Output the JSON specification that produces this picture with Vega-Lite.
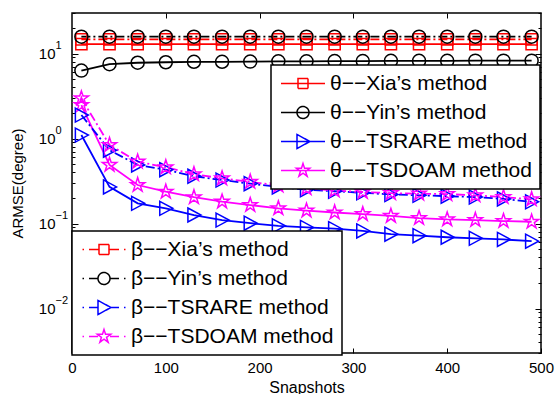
{
"$schema":"https://vega.github.io/schema/vega-lite/v6.json",
"width":469,"height":340,"autosize":"none",
"padding":{"left":72,"top":13,"right":14,"bottom":41},
"background":"white",
"config":{"font":"Liberation Sans","view":{"stroke":"black","strokeWidth":1.5},
 "axis":{"grid":false,"domain":false,"tickColor":"black","tickWidth":1,"labelColor":"black","titleColor":"black","labelFontSize":15,"titleFontSize":15,"titleFontWeight":"normal","labelFont":"Liberation Sans","titleFont":"Liberation Sans"}},
"datasets":{"d":[
{"s":"θ−−Xia’s method","p":"t","x":10,"y":12.9},{"s":"θ−−Xia’s method","p":"t","x":40,"y":12.9},{"s":"θ−−Xia’s method","p":"t","x":70,"y":12.9},{"s":"θ−−Xia’s method","p":"t","x":100,"y":12.9},{"s":"θ−−Xia’s method","p":"t","x":130,"y":12.9},{"s":"θ−−Xia’s method","p":"t","x":160,"y":12.9},{"s":"θ−−Xia’s method","p":"t","x":190,"y":12.9},{"s":"θ−−Xia’s method","p":"t","x":220,"y":12.9},{"s":"θ−−Xia’s method","p":"t","x":250,"y":12.9},{"s":"θ−−Xia’s method","p":"t","x":280,"y":12.9},{"s":"θ−−Xia’s method","p":"t","x":310,"y":12.9},{"s":"θ−−Xia’s method","p":"t","x":340,"y":12.9},{"s":"θ−−Xia’s method","p":"t","x":370,"y":12.9},{"s":"θ−−Xia’s method","p":"t","x":400,"y":12.9},{"s":"θ−−Xia’s method","p":"t","x":430,"y":12.9},{"s":"θ−−Xia’s method","p":"t","x":460,"y":12.9},{"s":"θ−−Xia’s method","p":"t","x":490,"y":12.9},
{"s":"θ−−Yin’s method","p":"t","x":10,"y":6.3},{"s":"θ−−Yin’s method","p":"t","x":40,"y":7.5},{"s":"θ−−Yin’s method","p":"t","x":70,"y":7.8},{"s":"θ−−Yin’s method","p":"t","x":100,"y":7.9},{"s":"θ−−Yin’s method","p":"t","x":130,"y":8.0},{"s":"θ−−Yin’s method","p":"t","x":160,"y":8.0},{"s":"θ−−Yin’s method","p":"t","x":190,"y":8.05},{"s":"θ−−Yin’s method","p":"t","x":220,"y":8.1},{"s":"θ−−Yin’s method","p":"t","x":250,"y":8.1},{"s":"θ−−Yin’s method","p":"t","x":280,"y":8.15},{"s":"θ−−Yin’s method","p":"t","x":310,"y":8.15},{"s":"θ−−Yin’s method","p":"t","x":340,"y":8.2},{"s":"θ−−Yin’s method","p":"t","x":370,"y":8.2},{"s":"θ−−Yin’s method","p":"t","x":400,"y":8.2},{"s":"θ−−Yin’s method","p":"t","x":430,"y":8.25},{"s":"θ−−Yin’s method","p":"t","x":460,"y":8.25},{"s":"θ−−Yin’s method","p":"t","x":490,"y":8.25},
{"s":"θ−−TSRARE method","p":"t","x":10,"y":1.1},{"s":"θ−−TSRARE method","p":"t","x":40,"y":0.27},{"s":"θ−−TSRARE method","p":"t","x":70,"y":0.173},{"s":"θ−−TSRARE method","p":"t","x":100,"y":0.151},{"s":"θ−−TSRARE method","p":"t","x":130,"y":0.126},{"s":"θ−−TSRARE method","p":"t","x":160,"y":0.11},{"s":"θ−−TSRARE method","p":"t","x":190,"y":0.101},{"s":"θ−−TSRARE method","p":"t","x":220,"y":0.094},{"s":"θ−−TSRARE method","p":"t","x":250,"y":0.09},{"s":"θ−−TSRARE method","p":"t","x":280,"y":0.087},{"s":"θ−−TSRARE method","p":"t","x":310,"y":0.082},{"s":"θ−−TSRARE method","p":"t","x":340,"y":0.075},{"s":"θ−−TSRARE method","p":"t","x":370,"y":0.072},{"s":"θ−−TSRARE method","p":"t","x":400,"y":0.069},{"s":"θ−−TSRARE method","p":"t","x":430,"y":0.067},{"s":"θ−−TSRARE method","p":"t","x":460,"y":0.065},{"s":"θ−−TSRARE method","p":"t","x":490,"y":0.062},
{"s":"θ−−TSDOAM method","p":"t","x":10,"y":2.48},{"s":"θ−−TSDOAM method","p":"t","x":40,"y":0.49},{"s":"θ−−TSDOAM method","p":"t","x":70,"y":0.284},{"s":"θ−−TSDOAM method","p":"t","x":100,"y":0.237},{"s":"θ−−TSDOAM method","p":"t","x":130,"y":0.204},{"s":"θ−−TSDOAM method","p":"t","x":160,"y":0.181},{"s":"θ−−TSDOAM method","p":"t","x":190,"y":0.165},{"s":"θ−−TSDOAM method","p":"t","x":220,"y":0.151},{"s":"θ−−TSDOAM method","p":"t","x":250,"y":0.142},{"s":"θ−−TSDOAM method","p":"t","x":280,"y":0.135},{"s":"θ−−TSDOAM method","p":"t","x":310,"y":0.129},{"s":"θ−−TSDOAM method","p":"t","x":340,"y":0.123},{"s":"θ−−TSDOAM method","p":"t","x":370,"y":0.116},{"s":"θ−−TSDOAM method","p":"t","x":400,"y":0.112},{"s":"θ−−TSDOAM method","p":"t","x":430,"y":0.11},{"s":"θ−−TSDOAM method","p":"t","x":460,"y":0.107},{"s":"θ−−TSDOAM method","p":"t","x":490,"y":0.105},
{"s":"β−−Xia’s method","p":"b","x":10,"y":14.7},{"s":"β−−Xia’s method","p":"b","x":40,"y":14.7},{"s":"β−−Xia’s method","p":"b","x":70,"y":14.7},{"s":"β−−Xia’s method","p":"b","x":100,"y":14.7},{"s":"β−−Xia’s method","p":"b","x":130,"y":14.7},{"s":"β−−Xia’s method","p":"b","x":160,"y":14.7},{"s":"β−−Xia’s method","p":"b","x":190,"y":14.7},{"s":"β−−Xia’s method","p":"b","x":220,"y":14.7},{"s":"β−−Xia’s method","p":"b","x":250,"y":14.7},{"s":"β−−Xia’s method","p":"b","x":280,"y":14.7},{"s":"β−−Xia’s method","p":"b","x":310,"y":14.7},{"s":"β−−Xia’s method","p":"b","x":340,"y":14.7},{"s":"β−−Xia’s method","p":"b","x":370,"y":14.7},{"s":"β−−Xia’s method","p":"b","x":400,"y":14.7},{"s":"β−−Xia’s method","p":"b","x":430,"y":14.7},{"s":"β−−Xia’s method","p":"b","x":460,"y":14.7},{"s":"β−−Xia’s method","p":"b","x":490,"y":14.7},
{"s":"β−−Yin’s method","p":"b","x":10,"y":15.8},{"s":"β−−Yin’s method","p":"b","x":40,"y":15.8},{"s":"β−−Yin’s method","p":"b","x":70,"y":15.8},{"s":"β−−Yin’s method","p":"b","x":100,"y":15.8},{"s":"β−−Yin’s method","p":"b","x":130,"y":15.8},{"s":"β−−Yin’s method","p":"b","x":160,"y":15.8},{"s":"β−−Yin’s method","p":"b","x":190,"y":15.8},{"s":"β−−Yin’s method","p":"b","x":220,"y":15.8},{"s":"β−−Yin’s method","p":"b","x":250,"y":15.8},{"s":"β−−Yin’s method","p":"b","x":280,"y":15.8},{"s":"β−−Yin’s method","p":"b","x":310,"y":15.8},{"s":"β−−Yin’s method","p":"b","x":340,"y":15.8},{"s":"β−−Yin’s method","p":"b","x":370,"y":15.8},{"s":"β−−Yin’s method","p":"b","x":400,"y":15.8},{"s":"β−−Yin’s method","p":"b","x":430,"y":15.8},{"s":"β−−Yin’s method","p":"b","x":460,"y":15.8},{"s":"β−−Yin’s method","p":"b","x":490,"y":15.8},
{"s":"β−−TSRARE method","p":"b","x":10,"y":1.89},{"s":"β−−TSRARE method","p":"b","x":40,"y":0.73},{"s":"β−−TSRARE method","p":"b","x":70,"y":0.49},{"s":"β−−TSRARE method","p":"b","x":100,"y":0.43},{"s":"β−−TSRARE method","p":"b","x":130,"y":0.36},{"s":"β−−TSRARE method","p":"b","x":160,"y":0.325},{"s":"β−−TSRARE method","p":"b","x":190,"y":0.295},{"s":"β−−TSRARE method","p":"b","x":220,"y":0.27},{"s":"β−−TSRARE method","p":"b","x":250,"y":0.25},{"s":"β−−TSRARE method","p":"b","x":280,"y":0.24},{"s":"β−−TSRARE method","p":"b","x":310,"y":0.23},{"s":"β−−TSRARE method","p":"b","x":340,"y":0.22},{"s":"β−−TSRARE method","p":"b","x":370,"y":0.215},{"s":"β−−TSRARE method","p":"b","x":400,"y":0.21},{"s":"β−−TSRARE method","p":"b","x":430,"y":0.205},{"s":"β−−TSRARE method","p":"b","x":460,"y":0.195},{"s":"β−−TSRARE method","p":"b","x":490,"y":0.18},
{"s":"β−−TSDOAM method","p":"b","x":10,"y":2.97},{"s":"β−−TSDOAM method","p":"b","x":40,"y":0.84},{"s":"β−−TSDOAM method","p":"b","x":70,"y":0.535},{"s":"β−−TSDOAM method","p":"b","x":100,"y":0.46},{"s":"β−−TSDOAM method","p":"b","x":130,"y":0.38},{"s":"β−−TSDOAM method","p":"b","x":160,"y":0.34},{"s":"β−−TSDOAM method","p":"b","x":190,"y":0.31},{"s":"β−−TSDOAM method","p":"b","x":220,"y":0.28},{"s":"β−−TSDOAM method","p":"b","x":250,"y":0.26},{"s":"β−−TSDOAM method","p":"b","x":280,"y":0.245},{"s":"β−−TSDOAM method","p":"b","x":310,"y":0.235},{"s":"β−−TSDOAM method","p":"b","x":340,"y":0.228},{"s":"β−−TSDOAM method","p":"b","x":370,"y":0.225},{"s":"β−−TSDOAM method","p":"b","x":400,"y":0.222},{"s":"β−−TSDOAM method","p":"b","x":430,"y":0.215},{"s":"β−−TSDOAM method","p":"b","x":460,"y":0.205},{"s":"β−−TSDOAM method","p":"b","x":490,"y":0.193}
]},
"layer":[
{
 "data":{"name":"d"},
 "transform":[{"filter":"datum.p=='t'"}],
 "encoding":{
  "x":{"field":"x","type":"quantitative","scale":{"domain":[0,500],"nice":false,"zero":false},
   "axis":{"orient":"bottom","values":[0,100,200,300,400,500],"title":"Snapshots","tickSize":-5,"labelPadding":12,"labelFlush":false,"titlePadding":4,"titleFontSize":16}},
  "y":{"field":"y","type":"quantitative","scale":{"type":"log","domain":[0.003,30],"nice":false},
   "axis":{"orient":"left","values":[0.003,0.004,0.005,0.006,0.007,0.008,0.009,0.01,0.02,0.03,0.04,0.05,0.06,0.07,0.08,0.09,0.1,0.2,0.3,0.4,0.5,0.6,0.7,0.8,0.9,1,2,3,4,5,6,7,8,9,10,20,30],
    "labelExpr":"(datum.value==10||datum.value==1||abs(datum.value-0.1)<1e-9||abs(datum.value-0.01)<1e-9)?'10':''",
    "tickSize":{"condition":{"test":"abs(log(datum.value)/LN10-round(log(datum.value)/LN10))<0.001","value":-6},"value":-3},
    "labelPadding":23,"title":"ARMSE(degree)","titlePadding":13}},
  "color":{"field":"s","type":"nominal",
   "scale":{"domain":["θ−−Xia’s method","θ−−Yin’s method","θ−−TSRARE method","θ−−TSDOAM method"],"range":["#ff0000","#000000","#0000ff","#ff00ff"]},
   "legend":{"orient":"none","legendX":199,"legendY":52,"title":null,"strokeColor":"black","fillColor":"white","padding":8,"labelFontSize":21,"labelFont":"Liberation Sans","labelColor":"black","labelOffset":30,"rowPadding":7,"symbolSize":4,"labelLimit":500,
    "encode":{"symbols":{"update":{
      "shape":{"signal":"indexof(datum.value,'Xia')>=0?'M-8.5,0L35.5,0M8.5,-5L18.5,-5L18.5,5L8.5,5Z':indexof(datum.value,'Yin')>=0?'M-8.5,0L35.5,0M7.5,0A6,6 0 1,0 19.5,0A6,6 0 1,0 7.5,0':indexof(datum.value,'RARE')>=0?'M-8.5,0L35.5,0M7.5,-7L20.5,0L7.5,7Z':'M-8.5,0L35.5,0M13.5,-7L15.07,-2.16L20.16,-2.16L16.04,0.83L17.61,5.66L13.5,2.67L9.39,5.66L10.96,0.83L6.84,-2.16L11.93,-2.16Z'"},
      "size":{"value":4},"fill":{"value":"transparent"},"strokeWidth":{"value":1.5},"strokeDash":{"value":[1,0]},"opacity":{"value":1}}},
     "legend":{"update":{"strokeWidth":{"value":1.5}}}}}}
 },
 "layer":[
  {"mark":{"type":"line","strokeWidth":1.8,"clip":true}},
  {"transform":[{"filter":"indexof(datum.s,'Xia')>=0"}],"mark":{"type":"point","filled":false,"strokeWidth":1.5,"size":196,"opacity":1,"clip":true,"shape":"M-0.8,-0.8L0.8,-0.8L0.8,0.8L-0.8,0.8Z"}},
  {"transform":[{"filter":"indexof(datum.s,'Yin')>=0"}],"mark":{"type":"point","filled":false,"strokeWidth":1.5,"size":196,"opacity":1,"clip":true,"shape":"M-0.93,0A0.93,0.93 0 1,0 0.93,0A0.93,0.93 0 1,0 -0.93,0"}},
  {"transform":[{"filter":"indexof(datum.s,'RARE')>=0"}],"mark":{"type":"point","filled":false,"strokeWidth":1.5,"size":196,"opacity":1,"clip":true,"shape":"M-0.86,-1L1,0L-0.86,1Z"}},
  {"transform":[{"filter":"indexof(datum.s,'DOAM')>=0"}],"mark":{"type":"point","filled":false,"strokeWidth":1.5,"size":196,"opacity":1,"clip":true,"shape":"M0,-1.07L0.24,-0.331L1.018,-0.331L0.389,0.126L0.629,0.866L0,0.409L-0.629,0.866L-0.389,0.126L-1.018,-0.331L-0.24,-0.331Z"}}
 ]
},
{
 "data":{"name":"d"},
 "transform":[{"filter":"datum.p=='b'"}],
 "encoding":{
  "x":{"field":"x","type":"quantitative","scale":{"domain":[0,500],"nice":false,"zero":false},
   "axis":{"orient":"top","values":[100,200,300,400],"title":null,"labels":false,"tickSize":-5}},
  "y":{"field":"y","type":"quantitative","scale":{"type":"log","domain":[0.003,30],"nice":false},
   "axis":{"orient":"right","values":[0.003,0.004,0.005,0.006,0.007,0.008,0.009,0.01,0.02,0.03,0.04,0.05,0.06,0.07,0.08,0.09,0.1,0.2,0.3,0.4,0.5,0.6,0.7,0.8,0.9,1,2,3,4,5,6,7,8,9,10,20,30],"labels":false,"title":null,
    "tickSize":{"condition":{"test":"abs(log(datum.value)/LN10-round(log(datum.value)/LN10))<0.001","value":-6},"value":-3}}},
  "color":{"field":"s","type":"nominal",
   "scale":{"domain":["β−−Xia’s method","β−−Yin’s method","β−−TSRARE method","β−−TSDOAM method"],"range":["#ff0000","#000000","#0000ff","#ff00ff"]},
   "legend":{"orient":"none","legendX":0,"legendY":218,"title":null,"strokeColor":"black","fillColor":"white","padding":8,"labelFontSize":21,"labelFont":"Liberation Sans","labelColor":"black","labelOffset":30,"rowPadding":7,"symbolSize":4,"labelLimit":500,
    "encode":{"symbols":{"update":{
      "shape":{"signal":"indexof(datum.value,'Xia')>=0?'M-8,0L-6.5,0M-1.5,0L8.5,0M18.5,0L28.5,0M33.5,0L35,0M8.5,-5L18.5,-5L18.5,5L8.5,5Z':indexof(datum.value,'Yin')>=0?'M-8,0L-6.5,0M-1.5,0L7.5,0M19.5,0L28.5,0M33.5,0L35,0M7.5,0A6,6 0 1,0 19.5,0A6,6 0 1,0 7.5,0':indexof(datum.value,'RARE')>=0?'M-8,0L-6.5,0M-1.5,0L7.5,0M20.5,0L28.5,0M33.5,0L35,0M7.5,-7L20.5,0L7.5,7Z':'M-8,0L-6.5,0M-1.5,0L7.5,0M19.5,0L28.5,0M33.5,0L35,0M13.5,-7L15.07,-2.16L20.16,-2.16L16.04,0.83L17.61,5.66L13.5,2.67L9.39,5.66L10.96,0.83L6.84,-2.16L11.93,-2.16Z'"},
      "size":{"value":4},"fill":{"value":"transparent"},"strokeWidth":{"value":1.5},"strokeDash":{"value":[1,0]},"opacity":{"value":1}}},
     "legend":{"update":{"strokeWidth":{"value":1.5}}}}}}
 },
 "layer":[
  {"mark":{"type":"line","strokeWidth":1.8,"strokeDash":[9,3,2,3],"clip":true}},
  {"transform":[{"filter":"indexof(datum.s,'Xia')>=0"}],"mark":{"type":"point","filled":false,"strokeWidth":1.5,"size":196,"opacity":1,"clip":true,"shape":"M-0.8,-0.8L0.8,-0.8L0.8,0.8L-0.8,0.8Z"}},
  {"transform":[{"filter":"indexof(datum.s,'Yin')>=0"}],"mark":{"type":"point","filled":false,"strokeWidth":1.5,"size":196,"opacity":1,"clip":true,"shape":"M-0.93,0A0.93,0.93 0 1,0 0.93,0A0.93,0.93 0 1,0 -0.93,0"}},
  {"transform":[{"filter":"indexof(datum.s,'RARE')>=0"}],"mark":{"type":"point","filled":false,"strokeWidth":1.5,"size":196,"opacity":1,"clip":true,"shape":"M-0.86,-1L1,0L-0.86,1Z"}},
  {"transform":[{"filter":"indexof(datum.s,'DOAM')>=0"}],"mark":{"type":"point","filled":false,"strokeWidth":1.5,"size":196,"opacity":1,"clip":true,"shape":"M0,-1.07L0.24,-0.331L1.018,-0.331L0.389,0.126L0.629,0.866L0,0.409L-0.629,0.866L-0.389,0.126L-1.018,-0.331L-0.24,-0.331Z"}}
 ]
},
{
 "data":{"name":"d"},
 "transform":[{"filter":"datum.p=='t'"}],
 "mark":{"type":"point","opacity":0},
 "encoding":{
  "x":{"field":"x","type":"quantitative","scale":{"domain":[0,500],"nice":false,"zero":false},"axis":null},
  "y":{"field":"y","type":"quantitative","scale":{"type":"log","domain":[0.003,30],"nice":false},
   "axis":{"orient":"left","values":[0.01,0.1,1,10],"ticks":false,"title":null,"labelAlign":"left","labelPadding":17,"labelOffset":-8,"labelFontSize":11,
    "labelExpr":"datum.value==10?'1':datum.value==1?'0':abs(datum.value-0.1)<1e-9?'−1':'−2'"}}
 }
}
],
"resolve":{"scale":{"color":"independent"},"axis":{"x":"independent","y":"independent"}}
}
